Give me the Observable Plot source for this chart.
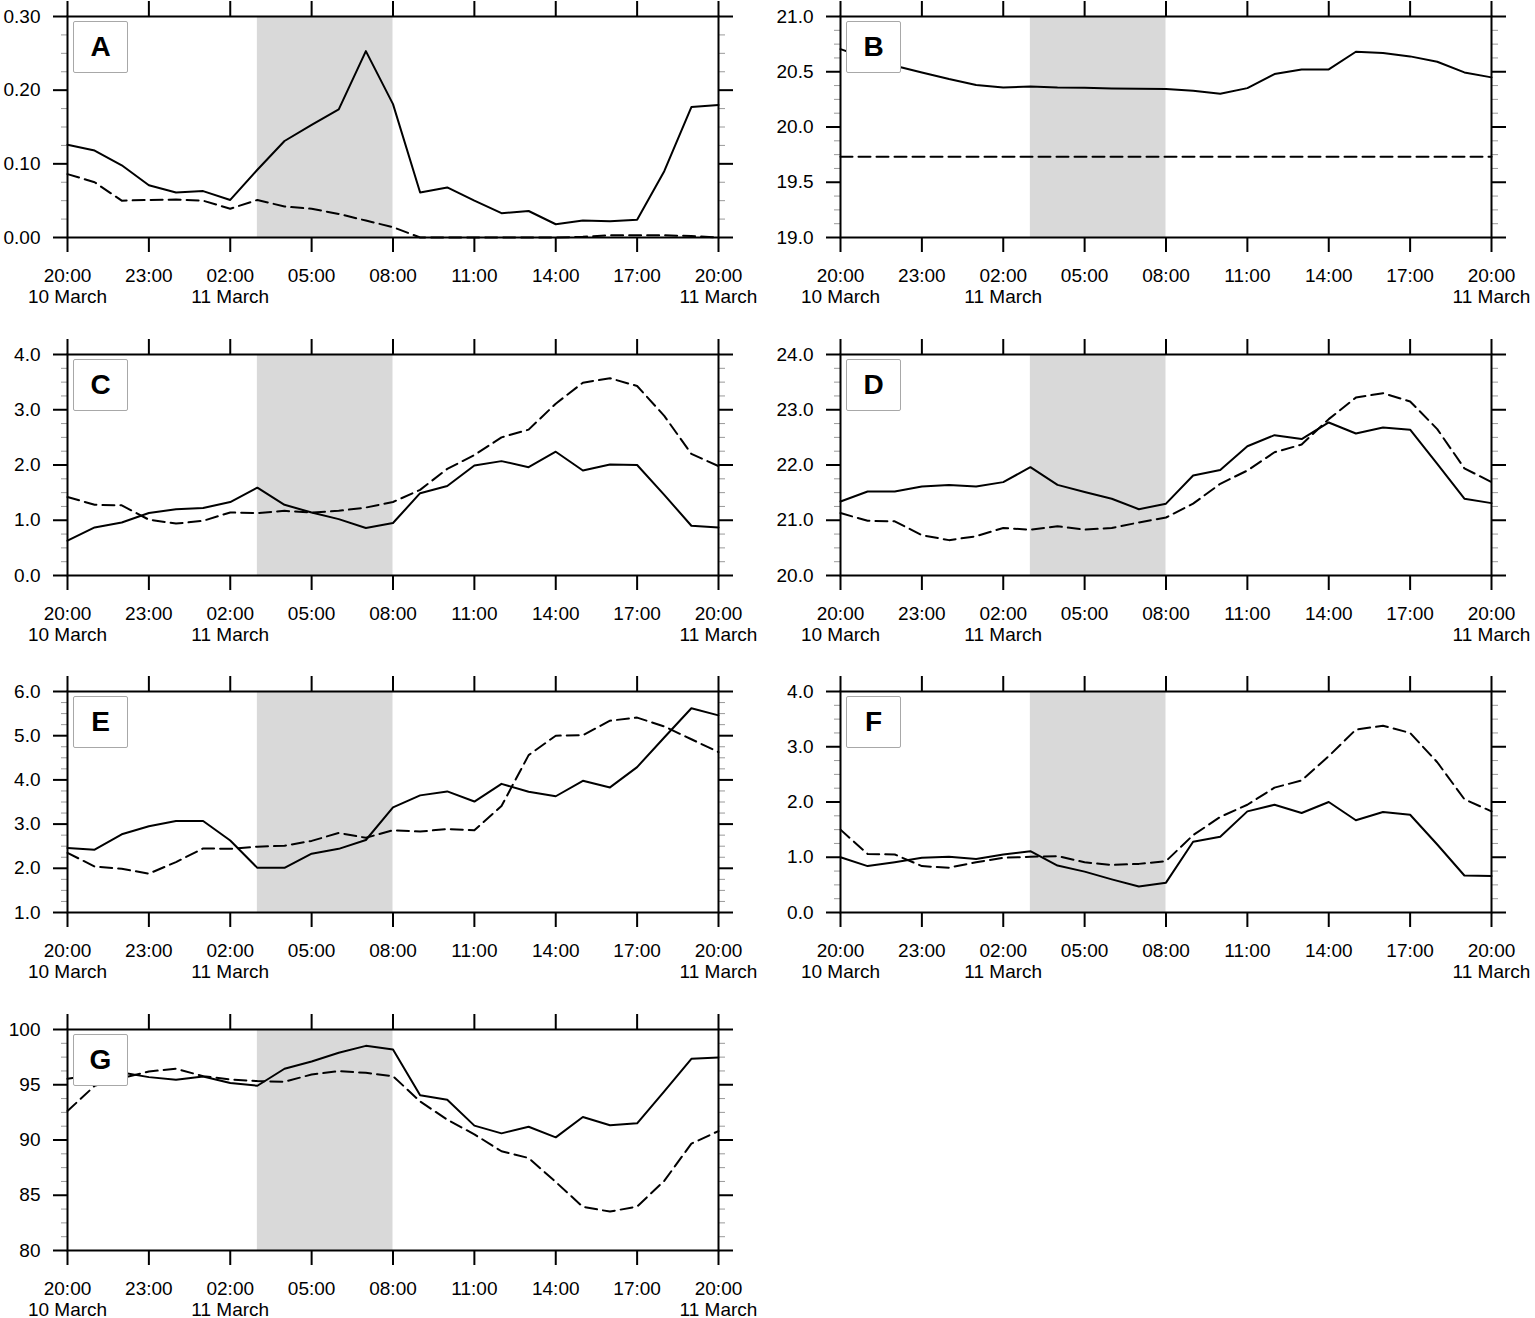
<!DOCTYPE html>
<html><head><meta charset="utf-8">
<script src="https://cdn.jsdelivr.net/npm/d3@7"></script>
<script src="https://cdn.jsdelivr.net/npm/@observablehq/plot@0.6"></script>
<style>
html,body{margin:0;padding:0;background:#fff;}
body{width:1535px;height:1318px;position:relative;overflow:hidden;font-family:"Liberation Sans",Arial,Helvetica,sans-serif;}
.panel{position:absolute;width:768px;}
.panel svg{max-width:none !important;display:block;}
.tag{position:absolute;box-sizing:border-box;width:55px;height:52px;border:1px solid #a8a8a8;border-radius:2px;background:#fff;font-weight:bold;font-size:28px;display:flex;align-items:center;justify-content:center;color:#000;}
</style></head><body>
<script>
// ---- data ----
const hourLabels = ["20:00","21:00","22:00","23:00","00:00","01:00","02:00","03:00","04:00","05:00","06:00","07:00","08:00","09:00","10:00","11:00","12:00","13:00","14:00","15:00","16:00","17:00","18:00","19:00","20:00"];
const tickHours = [0,3,6,9,12,15,18,21,24];
const tickLabels = ["20:00\n10 March","23:00","02:00\n11 March","05:00","08:00","11:00","14:00","17:00","20:00\n11 March"];
const nightStart = 7;  // 03:00
const nightEnd = 12;   // 08:00

const A_solid  = [0.126,0.118,0.098,0.071,0.061,0.063,0.051,0.092,0.131,0.153,0.174,0.253,0.181,0.061,0.068,0.050,0.033,0.036,0.018,0.023,0.022,0.024,0.090,0.177,0.180];
const A_dashed = [0.086,0.075,0.050,0.051,0.0515,0.050,0.039,0.051,0.042,0.039,0.032,0.023,0.014,0.000,0.000,0.000,0.000,0.000,0.000,0.001,0.003,0.003,0.003,0.002,0.000];
const B_solid  = [20.705,20.62,20.554,20.494,20.434,20.38,20.358,20.367,20.358,20.355,20.349,20.346,20.343,20.328,20.30,20.352,20.479,20.521,20.521,20.681,20.669,20.639,20.59,20.494,20.449];
const B_dashed = [19.73,19.73,19.73,19.73,19.73,19.73,19.73,19.73,19.73,19.73,19.73,19.73,19.73,19.73,19.73,19.73,19.73,19.73,19.73,19.73,19.73,19.73,19.73,19.73,19.73];
const C_solid  = [0.63,0.87,0.96,1.13,1.20,1.22,1.33,1.59,1.28,1.14,1.02,0.86,0.95,1.49,1.62,1.99,2.07,1.96,2.24,1.90,2.01,2.00,1.46,0.90,0.87];
const C_dashed = [1.42,1.28,1.27,1.01,0.94,0.99,1.14,1.13,1.17,1.14,1.17,1.23,1.33,1.55,1.93,2.18,2.50,2.64,3.11,3.49,3.57,3.43,2.89,2.20,1.98];
const D_solid  = [21.34,21.52,21.52,21.61,21.64,21.61,21.69,21.96,21.64,21.51,21.39,21.20,21.30,21.81,21.91,22.34,22.54,22.47,22.77,22.57,22.68,22.64,22.02,21.39,21.31];
const D_dashed = [21.13,20.99,20.98,20.73,20.64,20.71,20.86,20.83,20.89,20.83,20.86,20.96,21.05,21.30,21.66,21.90,22.23,22.37,22.83,23.22,23.30,23.15,22.65,21.94,21.69];
const E_solid  = [2.46,2.42,2.77,2.95,3.07,3.07,2.63,2.01,2.01,2.33,2.44,2.64,3.38,3.65,3.74,3.51,3.91,3.73,3.63,3.98,3.83,4.29,4.96,5.62,5.46];
const E_dashed = [2.35,2.04,1.99,1.88,2.14,2.45,2.44,2.49,2.51,2.62,2.80,2.69,2.86,2.83,2.89,2.86,3.41,4.56,5.00,5.01,5.34,5.41,5.21,4.92,4.63];
const F_solid  = [1.00,0.84,0.91,0.99,1.01,0.97,1.05,1.11,0.85,0.74,0.60,0.47,0.54,1.28,1.37,1.83,1.95,1.80,2.00,1.67,1.82,1.77,1.23,0.67,0.66];
const F_dashed = [1.50,1.06,1.05,0.84,0.81,0.91,0.99,1.01,1.02,0.91,0.86,0.88,0.93,1.40,1.73,1.95,2.26,2.39,2.83,3.31,3.38,3.25,2.72,2.05,1.83];
const G_solid  = [95.54,95.9,96.1,95.69,95.45,95.75,95.15,94.91,96.45,97.11,97.89,98.52,98.19,94.04,93.64,91.30,90.60,91.20,90.24,92.08,91.33,91.51,94.40,97.35,97.47];
const G_dashed = [92.62,94.9,95.6,96.2,96.45,95.78,95.48,95.33,95.27,95.93,96.23,96.08,95.78,93.49,91.84,90.51,88.98,88.37,86.20,83.95,83.52,83.98,86.30,89.67,90.81];

const panelIds = ["A","B","C","D","E","F","G"];
const panelSolid = [A_solid,B_solid,C_solid,D_solid,E_solid,F_solid,G_solid];
const panelDashed = [A_dashed,B_dashed,C_dashed,D_dashed,E_dashed,F_dashed,G_dashed];
const yDomains = [[0,0.3],[19,21],[0,4],[20,24],[1,6],[0,4],[80,100]];
const yMajorSteps = [0.1,0.5,1,1,1,1,5];
const yFormats = [".2f",".1f",".1f",".1f",".1f",".1f","d"];

// ---- layout ----
const W = 768, ML = 67, MR = 50, MT = 16, PH = 221, MB = 80;
const colLeft = [0, 773];
const rowTop = [0, 338, 675, 1013];
const font = '"Liberation Sans", Arial, Helvetica, sans-serif';
const blank = () => "";

panelIds.forEach((id, k) => {
  const [y0, y1] = yDomains[k];
  const step = yMajorSteps[k];
  const n = Math.round((y1 - y0) / step);
  const major = d3.range(0, n + 1).map(i => y0 + i * step);
  const minor = d3.range(0, 4 * n + 1).filter(i => i % 4 !== 0).map(i => y0 + i * step / 4);
  const fmt = d3.format(yFormats[k]);
  const solid = panelSolid[k].map((v, i) => ({h: i, label: hourLabels[i], v}));
  const dashed = panelDashed[k].map((v, i) => ({h: i, label: hourLabels[i], v}));

  const chart = Plot.plot({
    width: W, height: MT + PH + MB,
    marginLeft: ML, marginRight: MR, marginTop: MT, marginBottom: MB,
    style: {fontFamily: font, fontSize: "19px", background: "transparent", overflow: "visible", color: "#000", maxWidth: "none"},
    x: {domain: [0, 24], label: null},
    y: {domain: [y0, y1], label: null},
    marks: [
      Plot.rect([{s: nightStart, e: nightEnd}], {x1: "s", x2: "e", y1: y0, y2: y1, fill: "#d9d9d9"}),
      Plot.line(dashed, {x: "h", y: "v", stroke: "#000", strokeWidth: 2, strokeDasharray: "12,6"}),
      Plot.line(solid, {x: "h", y: "v", stroke: "#000", strokeWidth: 2}),
      Plot.axisY(minor, {anchor: "left", tickSize: 6, stroke: "#9a9a9a", strokeWidth: 1, tickFormat: blank, label: null}),
      Plot.axisY(minor, {anchor: "right", tickSize: 6, stroke: "#9a9a9a", strokeWidth: 1, tickFormat: blank, label: null}),
      Plot.axisY(major, {anchor: "right", tickSize: 14, strokeWidth: 2, tickFormat: blank, label: null}),
      Plot.axisY(major, {anchor: "left", tickSize: 14, tickPadding: 13, strokeWidth: 2, tickFormat: fmt, fontSize: 19, label: null}),
      Plot.axisX(tickHours, {anchor: "top", tickSize: 16, strokeWidth: 2, tickFormat: blank, label: null}),
      Plot.axisX(tickHours, {anchor: "bottom", tickSize: 15, tickPadding: 14, strokeWidth: 2, fontSize: 19, lineHeight: 1.12,
        tickFormat: d => tickLabels[tickHours.indexOf(d)], label: null}),
      Plot.frame({stroke: "#000", strokeWidth: 2})
    ]
  });

  const col = k % 2, row = Math.floor(k / 2);
  const wrap = document.createElement("div");
  wrap.className = "panel";
  wrap.style.left = colLeft[col] + "px";
  wrap.style.top = rowTop[row] + "px";
  wrap.appendChild(chart);
  document.body.appendChild(wrap);

  const tag = document.createElement("div");
  tag.className = "tag";
  tag.textContent = id;
  tag.style.left = (colLeft[col] + ML + 6) + "px";
  tag.style.top = (rowTop[row] + MT + 5) + "px";
  document.body.appendChild(tag);
});
</script>
</body></html>
